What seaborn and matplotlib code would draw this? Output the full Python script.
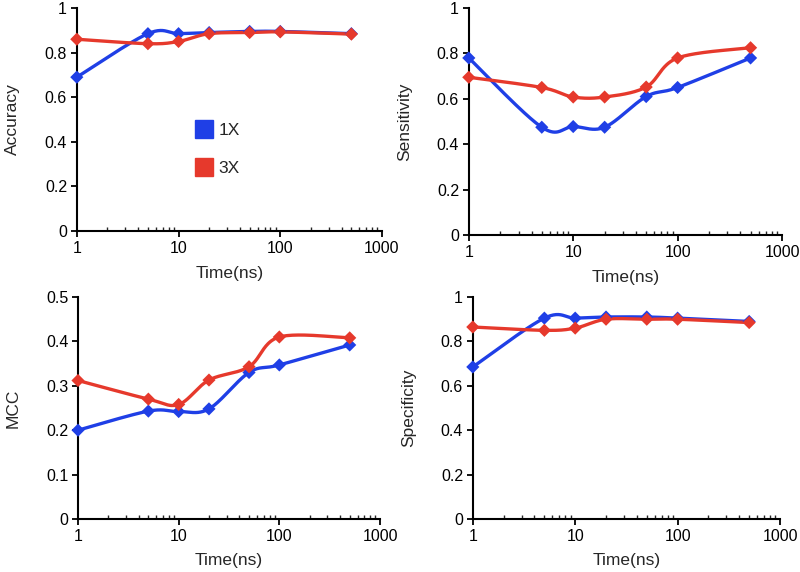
import numpy as np
import pandas as pd
import matplotlib
matplotlib.use("Agg")
import matplotlib.pyplot as plt
from matplotlib.lines import Line2D
from matplotlib.ticker import FuncFormatter, LogLocator, FixedLocator
import seaborn as sns

# data
times = [1, 5, 10, 20, 50, 100, 500]
groups = ["1X", "3X"]

accuracy_1x = [0.69, 0.885, 0.885, 0.89, 0.895, 0.895, 0.885]
accuracy_3x = [0.86, 0.84, 0.85, 0.885, 0.89, 0.893, 0.883]
sensitivity_1x = [0.78, 0.475, 0.478, 0.475, 0.61, 0.65, 0.78]
sensitivity_3x = [0.695, 0.65, 0.608, 0.608, 0.652, 0.78, 0.825]
mcc_1x = [0.20, 0.243, 0.242, 0.248, 0.33, 0.347, 0.392]
mcc_3x = [0.312, 0.27, 0.258, 0.313, 0.343, 0.41, 0.408]
specificity_1x = [0.685, 0.905, 0.905, 0.91, 0.91, 0.905, 0.89]
specificity_3x = [0.865, 0.85, 0.86, 0.90, 0.90, 0.90, 0.885]

COLORS = {"1X": "#1f3fe6", "3X": "#e6392c"}

panels = [
    ("Accuracy", accuracy_1x, accuracy_3x, 1.0, 0.2, [0.096, 0.596, 0.3815, 0.39]),
    ("Sensitivity", sensitivity_1x, sensitivity_3x, 1.0, 0.2, [0.586, 0.589, 0.3915, 0.397]),
    ("MCC", mcc_1x, mcc_3x, 0.5, 0.1, [0.0975, 0.0927, 0.3775, 0.388]),
    ("Specificity", specificity_1x, specificity_3x, 1.0, 0.2, [0.591, 0.0927, 0.384, 0.388]),
]


def smooth(xs, ys, n=40):
    # excel-style smoothed line (bezier through points, in log-x space)
    lx = np.log10(np.asarray(xs, float))
    y = np.asarray(ys, float)
    P = np.column_stack([lx, y])
    P = np.vstack([P[0], P, P[-1]])
    out = []
    t = np.linspace(0, 1, n)[:, None]
    for i in range(1, len(P) - 2):
        p0, p1, p2, p3 = P[i - 1], P[i], P[i + 1], P[i + 2]
        b1 = p1 + (p2 - p0) / 6
        b2 = p2 - (p3 - p1) / 6
        seg = ((1 - t) ** 3) * p1 + 3 * ((1 - t) ** 2) * t * b1 + 3 * (1 - t) * t ** 2 * b2 + t ** 3 * p2
        out.append(seg if i == 1 else seg[1:])
    out = np.vstack(out)
    return 10 ** out[:, 0], out[:, 1]


sns.set_style("ticks")
plt.rcParams["font.family"] = ["Liberation Sans", "DejaVu Sans"]
plt.rcParams["font.size"] = 11

fig = plt.figure(figsize=(8, 5.72), dpi=100)

for i, (name, v1, v3, ymax, ystep, rect) in enumerate(panels):
    ax = fig.add_axes(rect)
    pts = pd.DataFrame({
        "time": times * 2,
        "value": v1 + v3,
        "group": ["1X"] * len(times) + ["3X"] * len(times),
    })
    curves = []
    for g, vals in zip(groups, [v1, v3]):
        sx, sy = smooth(times, vals)
        curves.append(pd.DataFrame({"time": sx, "value": sy, "group": g}))
    curves = pd.concat(curves, ignore_index=True)

    sns.lineplot(data=curves, x="time", y="value", hue="group", palette=COLORS,
                 linewidth=2.4, sort=False, estimator=None, legend=False, ax=ax)
    sns.scatterplot(data=pts, x="time", y="value", hue="group", palette=COLORS,
                    marker="D", s=45, edgecolor="none", legend=False, ax=ax,
                    zorder=5, clip_on=False)

    ax.set_xscale("log")
    ax.set_xlim(1, 1000)
    ax.set_ylim(0, ymax)
    ax.set_yticks(np.arange(0, ymax + ystep / 2, ystep))
    ax.yaxis.set_major_formatter(FuncFormatter(lambda v, p: f"{v:g}"))
    ax.xaxis.set_major_locator(FixedLocator([1, 10, 100, 1000]))
    ax.xaxis.set_major_formatter(FuncFormatter(lambda v, p: f"{v:g}"))
    ax.xaxis.set_minor_locator(LogLocator(base=10, subs=np.arange(2, 10)))
    ax.set_xlabel("Time(ns)", fontsize=12.5, labelpad=7)
    ax.set_ylabel(name, fontsize=12.5, labelpad=18)
    sns.despine(ax=ax)
    for s in ["left", "bottom"]:
        ax.spines[s].set_linewidth(1.5)
        ax.spines[s].set_color("black")
    ax.tick_params(axis="both", which="major", direction="out", length=4, width=1.3,
                   labelsize=11.5, colors="black", pad=3)
    ax.tick_params(axis="x", which="minor", direction="in", length=3, width=1)

    if i == 0:
        handles = [Line2D([], [], marker="s", linestyle="none", markersize=13,
                          markerfacecolor=COLORS[g], markeredgecolor=COLORS[g]) for g in groups]
        ax.legend(handles, groups, loc="center left", bbox_to_anchor=(0.33, 0.367),
                  frameon=False, fontsize=12.5, handletextpad=0.25, labelspacing=1.3,
                  handlelength=1.2)

fig.savefig("out.png", dpi=100)
